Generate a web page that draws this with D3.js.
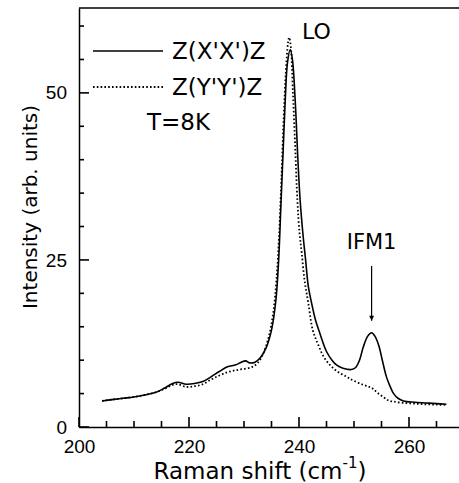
<!DOCTYPE html>
<html>
<head>
<meta charset="utf-8">
<script src="https://cdn.jsdelivr.net/npm/d3@7"></script>
<style>
  html, body { margin: 0; padding: 0; background: #fff; }
  svg { display: block; }
</style>
</head>
<body>
<div id="chart"></div>
<script>
// raman shift (cm-1) and intensity
const shiftXX = [204.2, 206, 208, 210, 212, 214, 215.5, 217, 218, 219.5, 221, 222.5, 224, 225.5, 227, 228.5, 229.5, 230.3, 231, 232, 233, 234, 235, 235.8, 236.3, 236.7, 237.1, 237.5, 237.9, 238.4, 238.8, 239.3, 239.8, 240.2, 240.7, 241.2, 241.7, 242.3, 243, 243.8, 245, 246, 246.8, 248, 249.5, 250.3, 251, 251.7, 252.5, 253.2, 253.8, 254.5, 255.2, 255.9, 256.6, 257.2, 258, 259, 261, 263, 265, 266.8];
const intXX = [3.9, 4.1, 4.3, 4.5, 4.8, 5.2, 5.8, 6.5, 6.7, 6.4, 6.5, 6.8, 7.5, 8.3, 9.0, 9.3, 9.7, 9.9, 9.6, 9.7, 10.4, 11.8, 14.5, 19, 25, 33, 41, 49, 54.5, 56.5, 55, 49, 40, 34, 29, 25, 21, 18.5, 16, 14, 11.3, 10, 9.3, 8.8, 8.6, 8.9, 10, 12, 13.6, 14.1, 13.6, 12.2, 9.8, 7.5, 6.0, 5.0, 4.3, 3.9, 3.7, 3.6, 3.5, 3.4];

const shiftYY = [204.2, 206, 208, 210, 212, 214, 215.5, 217, 218, 219.5, 221, 222.5, 224, 225.5, 227, 228.5, 230, 231.5, 232.5, 233.5, 234.5, 235.3, 235.9, 236.4, 236.8, 237.2, 237.6, 238.0, 238.2, 238.5, 238.9, 239.3, 239.7, 240.1, 240.5, 241, 241.7, 242.5, 243.5, 244.5, 245.6, 247, 248.7, 250, 251.7, 252.8, 253.5, 254.3, 255.3, 256.2, 257.2, 259, 261, 263, 265, 266.8];
const intYY = [3.9, 4.1, 4.3, 4.5, 4.8, 5.2, 5.7, 6.3, 6.4, 6.0, 6.1, 6.4, 7.1, 7.7, 8.2, 8.5, 8.7, 9.0, 9.6, 11, 13.5, 17, 22, 29, 37, 46, 53, 57.5, 58.3, 57, 50, 42, 34, 29, 26, 22, 18.5, 14.5, 12.3, 10.5, 9.3, 8.3, 7.5, 6.9, 6.3, 6.0, 5.7, 5.1, 4.5, 4.0, 3.8, 3.6, 3.5, 3.4, 3.35, 3.3];

const xMajor = [200, 220, 240, 260];
const xMinor = [205, 210, 215, 225, 230, 235, 245, 250, 255, 265];
const yMajor = [0, 25, 50];
const yMinor = [5, 10, 15, 20, 30, 35, 40, 45, 55, 60];

const legendLabels = ["Z(X'X')Z", "Z(Y'Y')Z"];

const width = 459, height = 483;
const frame = { left: 79, right: 464, top: 8, bottom: 427 };
const sans = "'Liberation Sans', Arial, sans-serif";
const wide = "'DejaVu Sans', sans-serif";

const svg = d3.select("#chart").append("svg")
  .attr("width", width)
  .attr("height", height);

const x = d3.scaleLinear().domain([200, 270]).range([frame.left, frame.right]);
const y = d3.scaleLinear().domain([0, 62.7]).range([frame.bottom, frame.top]);

// curves
const line = d3.line().x(d => x(d[0])).y(d => y(d[1])).curve(d3.curveCatmullRom);

svg.append("path")
  .datum(d3.zip(shiftYY, intYY))
  .attr("d", line)
  .attr("fill", "none").attr("stroke", "#000")
  .attr("stroke-width", 1.8).attr("stroke-dasharray", "1.6,2.2");

svg.append("path")
  .datum(d3.zip(shiftXX, intXX))
  .attr("d", line)
  .attr("fill", "none").attr("stroke", "#000").attr("stroke-width", 1.6);

// legend
const legend = svg.append("g");
legendLabels.forEach((lab, i) => {
  const ly = 51 + i * 36;
  legend.append("line")
    .attr("x1", 93).attr("x2", 163).attr("y1", ly).attr("y2", ly)
    .attr("stroke", "#000")
    .attr("stroke-width", i ? 1.8 : 1.6)
    .attr("stroke-dasharray", i ? "1.6,2.2" : null);
  legend.append("text")
    .attr("x", 172).attr("y", ly + 8)
    .attr("font-family", wide).attr("font-size", 23)
    .text(lab);
});
legend.append("text")
  .attr("x", 147).attr("y", 130)
  .attr("font-family", wide).attr("font-size", 23)
  .text("T=8K");

// annotations
svg.append("text")
  .attr("x", 302).attr("y", 39)
  .attr("font-family", wide).attr("font-size", 22)
  .text("LO");

svg.append("text")
  .attr("x", x(253.2)).attr("y", 249)
  .attr("text-anchor", "middle")
  .attr("font-family", wide).attr("font-size", 21)
  .text("IFM1");

svg.append("defs").append("marker")
  .attr("id", "head")
  .attr("viewBox", "0 0 10 10")
  .attr("refX", 10).attr("refY", 5)
  .attr("markerWidth", 9).attr("markerHeight", 5)
  .attr("markerUnits", "userSpaceOnUse")
  .attr("orient", "auto")
  .append("path").attr("d", "M0,0L10,5L0,10Z").attr("fill", "#000");

svg.append("line")
  .attr("x1", x(253.2)).attr("x2", x(253.2))
  .attr("y1", y(24.1)).attr("y2", y(15.9))
  .attr("stroke", "#000").attr("stroke-width", 1.2)
  .attr("marker-end", "url(#head)");

// axis titles
const xTitle = svg.append("text")
  .attr("x", 260).attr("y", 479)
  .attr("text-anchor", "middle")
  .attr("font-family", wide).attr("font-size", 23);
xTitle.append("tspan").text("Raman shift (cm");
xTitle.append("tspan").attr("dy", -11).attr("font-size", 15).text("-1");
xTitle.append("tspan").attr("dy", 11).text(")");

svg.append("text")
  .attr("transform", "translate(37,207) rotate(-90)")
  .attr("text-anchor", "middle")
  .attr("font-family", wide).attr("font-size", 20)
  .text("Intensity (arb. units)");

// axes: domain + labels from d3.axis
svg.append("g").attr("transform", `translate(0,${frame.bottom})`)
  .call(d3.axisBottom(x).tickValues(xMajor).tickSize(0).tickPadding(13).tickFormat(d3.format("d")));
svg.append("g").attr("transform", `translate(${frame.left},0)`)
  .call(d3.axisLeft(y).tickValues(yMajor).tickSize(0).tickPadding(12).tickFormat(d3.format("d")));

svg.selectAll(".domain").attr("stroke", "#000").attr("stroke-width", 1.5);
svg.selectAll(".tick text").attr("font-family", sans).attr("font-size", 19).attr("fill", "#000");

// inward ticks as small filled bars placed by the scales
const tickG = svg.append("g").attr("fill", "#000");
tickG.selectAll("rect.xt")
  .data(xMinor.map(v => [v, 6]).concat(xMajor.map(v => [v, 10])))
  .join("rect")
  .attr("class", "xt")
  .attr("x", d => x(d[0]) - 0.8)
  .attr("y", d => frame.bottom - d[1])
  .attr("width", 1.6)
  .attr("height", d => d[1]);
tickG.selectAll("rect.yt")
  .data(yMinor.map(v => [v, 5]).concat(yMajor.map(v => [v, 10])))
  .join("rect")
  .attr("class", "yt")
  .attr("x", frame.left)
  .attr("y", d => y(d[0]) - 0.8)
  .attr("width", d => d[1])
  .attr("height", 1.6);

// frame top and right
svg.append("path")
  .attr("d", `M${frame.left},${frame.top}H${frame.right}V${frame.bottom}`)
  .attr("fill", "none").attr("stroke", "#000").attr("stroke-width", 1.5);
</script>
</body>
</html>
